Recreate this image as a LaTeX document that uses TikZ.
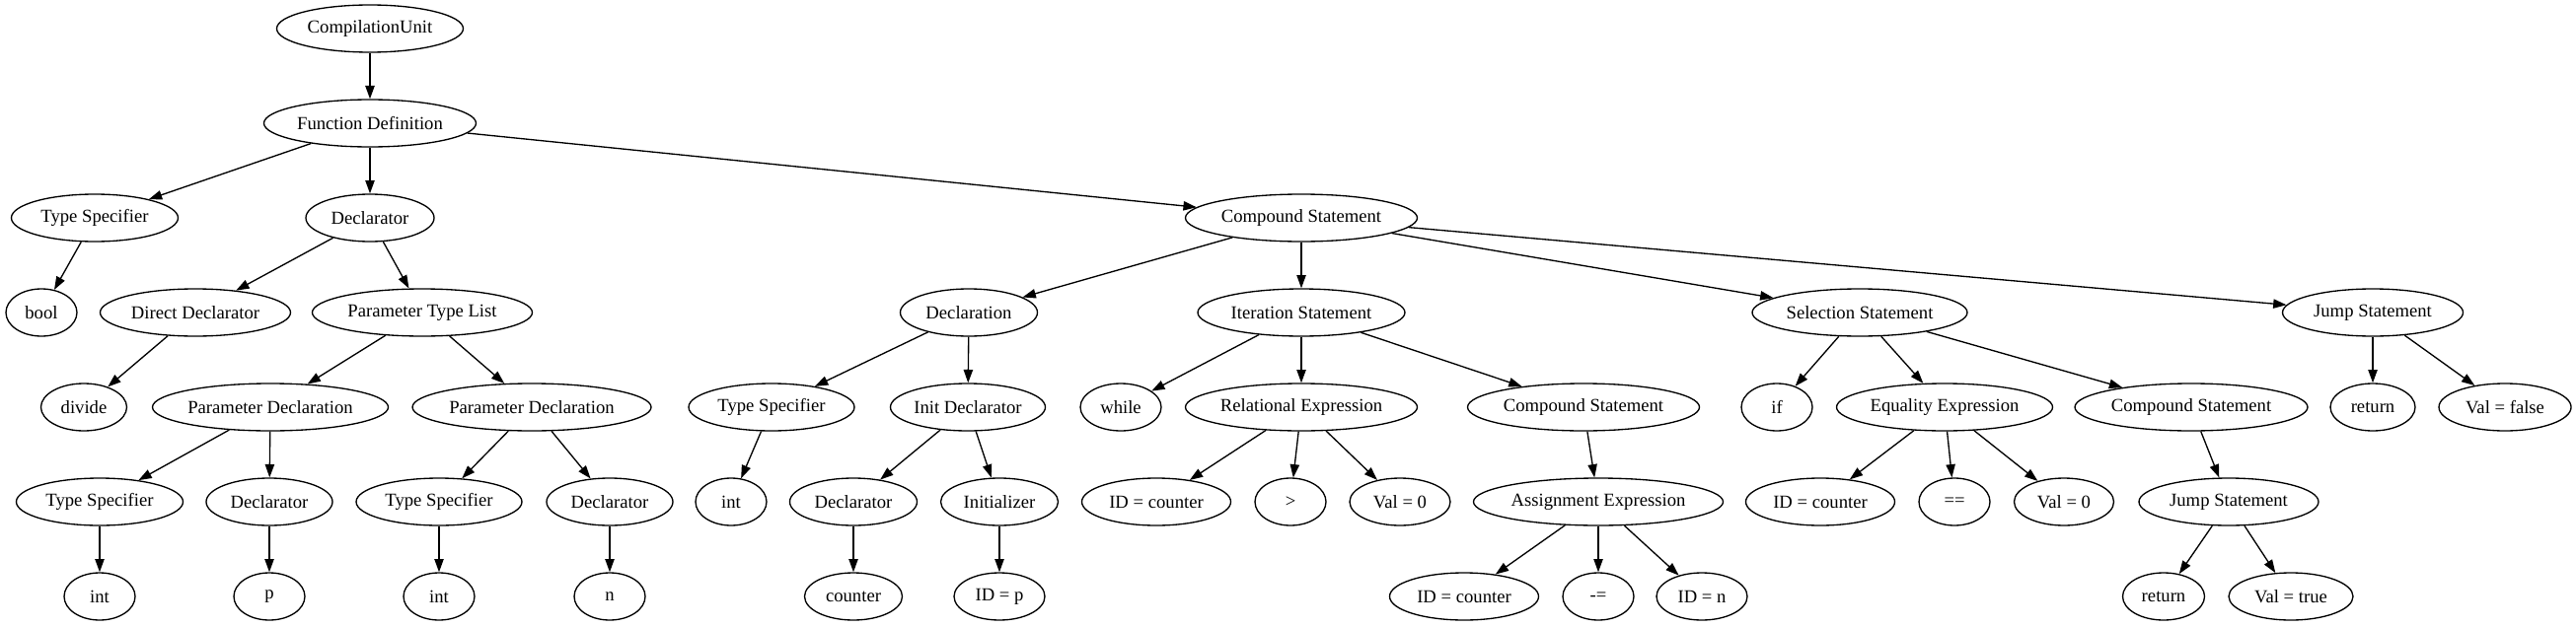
\documentclass[tikz,border=0pt]{standalone}
\usepackage{fontspec}
\setmainfont{Liberation Serif}
\usepackage{tikz}
\usetikzlibrary{arrows.meta}
\usetikzlibrary{shapes.geometric}
\tikzset{astNode/.style={ellipse,draw,line width=1pt,inner sep=0pt,
		                 minimum height=36pt,minimum width=54pt},
		nodeW/.style={minimum width=#1*0.75pt},
		astEdge/.style={-{Triangle[length=10pt,width=7pt]},line width=1pt},
		every node/.style={align=center}}

\begin{document}
\begin{tikzpicture}[x=0.75pt,y=-0.75pt,font=\fontsize{14pt}{16pt}\selectfont]
\useasboundingbox (0,0) rectangle (2611,635);
% level 0 and 1
\node[astNode,nodeW=189] (cu) at (375,29) {CompilationUnit};
\node[astNode,nodeW=215] (funcDef) at (375,125) {Function Definition};
% level 2
\node[astNode,nodeW=169] (typeSpecA) at (96,221) {Type Specifier};
\node[astNode,nodeW=130] (declA) at (375,221) {Declarator};
\node[astNode,nodeW=235] (compStA) at (1319,221) {Compound Statement};
% level 3
\node[astNode] (boolN) at (42,317) {bool};
\node[astNode,nodeW=193] (dirDecl) at (198,317) {Direct Declarator};
\node[astNode,nodeW=223] (paramList) at (428,317) {Parameter Type List};
\node[astNode,nodeW=139] (declaration) at (982,317) {Declaration};
\node[astNode,nodeW=210] (iterSt) at (1319,317) {Iteration Statement};
\node[astNode,nodeW=218] (selSt) at (1885,317) {Selection Statement};
\node[astNode,nodeW=183] (jumpStA) at (2405,317) {Jump Statement};
% level 4
\node[astNode,nodeW=87] (divide) at (85,413) {divide};
\node[astNode,nodeW=239] (paramDeclA) at (274,413) {Parameter Declaration};
\node[astNode,nodeW=242] (paramDeclB) at (539,413) {Parameter Declaration};
\node[astNode,nodeW=168] (typeSpecD) at (782,413) {Type Specifier};
\node[astNode,nodeW=157] (initDecl) at (981,413) {Init Declarator};
\node[astNode,nodeW=82] (whileN) at (1136,413) {while};
\node[astNode,nodeW=235] (relExpr) at (1319,413) {Relational Expression};
\node[astNode,nodeW=235] (compStB) at (1605,413) {Compound Statement};
\node[astNode] (ifN) at (1801,413) {if};
\node[astNode,nodeW=219] (eqExpr) at (1971,413) {Equality Expression};
\node[astNode,nodeW=236] (compStC) at (2221,413) {Compound Statement};
\node[astNode,nodeW=86] (returnA) at (2405,413) {return};
\node[astNode,nodeW=134] (valFalse) at (2539,413) {Val = false};
% level 5
\node[astNode,nodeW=169] (typeSpecB) at (101,509) {Type Specifier};
\node[astNode,nodeW=128] (declB) at (273,509) {Declarator};
\node[astNode,nodeW=168] (typeSpecC) at (445,509) {Type Specifier};
\node[astNode,nodeW=128] (declC) at (618,509) {Declarator};
\node[astNode] (intD) at (741,509) {int};
\node[astNode,nodeW=129] (declD) at (865,509) {Declarator};
\node[astNode,nodeW=119] (initializer) at (1013,509) {Initializer};
\node[astNode,nodeW=151] (idCounterA) at (1172,509) {ID = counter};
\node[astNode] (gtN) at (1308,509) {>};
\node[astNode,nodeW=102] (valZeroA) at (1419,509) {Val = 0};
\node[astNode,nodeW=253] (assignExpr) at (1620,509) {Assignment Expression};
\node[astNode,nodeW=151] (idCounterB) at (1845,509) {ID = counter};
\node[astNode] (eqOp) at (1981,509) {==};
\node[astNode,nodeW=101] (valZeroB) at (2092,509) {Val = 0};
\node[astNode,nodeW=182] (jumpStB) at (2259,509) {Jump Statement};
% level 6
\node[astNode] (intB) at (101,605) {int};
\node[astNode] (pN) at (273,605) {p};
\node[astNode] (intC) at (445,605) {int};
\node[astNode] (nN) at (618,605) {n};
\node[astNode,nodeW=99] (counter) at (865,605) {counter};
\node[astNode,nodeW=92] (idP) at (1013,605) {ID = p};
\node[astNode,nodeW=151] (idCounterC) at (1484,605) {ID = counter};
\node[astNode] (minusEq) at (1620,605) {-=};
\node[astNode,nodeW=92] (idN) at (1725,605) {ID = n};
\node[astNode,nodeW=83] (returnB) at (2193,605) {return};
\node[astNode,nodeW=126] (valTrue) at (2322,605) {Val = true};

% edges
\draw[astEdge] (cu) edge (funcDef);
\draw[astEdge] (funcDef) edge (typeSpecA) edge (declA) edge (compStA);
\draw[astEdge] (typeSpecA) edge (boolN);
\draw[astEdge] (declA) edge (dirDecl) edge (paramList);
\draw[astEdge] (dirDecl) edge (divide);
\draw[astEdge] (paramList) edge (paramDeclA) edge (paramDeclB);
\draw[astEdge] (paramDeclA) edge (typeSpecB) edge (declB);
\draw[astEdge] (paramDeclB) edge (typeSpecC) edge (declC);
\draw[astEdge] (typeSpecB) edge (intB);
\draw[astEdge] (declB) edge (pN);
\draw[astEdge] (typeSpecC) edge (intC);
\draw[astEdge] (declC) edge (nN);
\draw[astEdge] (compStA) edge (declaration) edge (iterSt) edge (selSt) edge (jumpStA);
\draw[astEdge] (declaration) edge (typeSpecD) edge (initDecl);
\draw[astEdge] (typeSpecD) edge (intD);
\draw[astEdge] (initDecl) edge (declD) edge (initializer);
\draw[astEdge] (declD) edge (counter);
\draw[astEdge] (initializer) edge (idP);
\draw[astEdge] (iterSt) edge (whileN) edge (relExpr) edge (compStB);
\draw[astEdge] (relExpr) edge (idCounterA) edge (gtN) edge (valZeroA);
\draw[astEdge] (compStB) edge (assignExpr);
\draw[astEdge] (assignExpr) edge (idCounterC) edge (minusEq) edge (idN);
\draw[astEdge] (selSt) edge (ifN) edge (eqExpr) edge (compStC);
\draw[astEdge] (eqExpr) edge (idCounterB) edge (eqOp) edge (valZeroB);
\draw[astEdge] (compStC) edge (jumpStB);
\draw[astEdge] (jumpStB) edge (returnB) edge (valTrue);
\draw[astEdge] (jumpStA) edge (returnA) edge (valFalse);
\end{tikzpicture}
\end{document}
